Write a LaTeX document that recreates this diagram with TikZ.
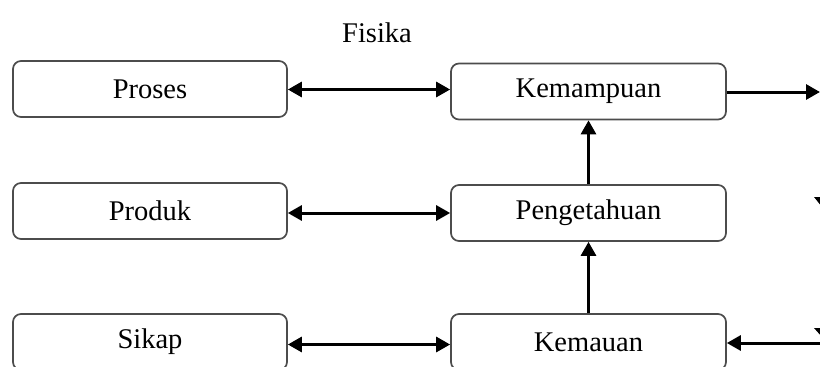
\documentclass[tikz,border=0pt]{standalone}
\usepackage{fontspec}
\setmainfont{Liberation Serif}
\usetikzlibrary{arrows.meta}
\begin{document}
\begin{tikzpicture}[x=1pt,y=-1pt,
  box/.style={draw=black!70, line width=1.7pt, rounded corners=8pt, fill=white,
    minimum height=56pt, inner sep=0pt, font=\fontsize{28.5}{32}\selectfont},
  lbox/.style={box, minimum width=274pt},
  mbox/.style={box, minimum width=275pt},
  conn/.style={line width=3pt, draw=black, arrows={-Triangle[length=14pt,width=15pt]}},
  biconn/.style={line width=3pt, draw=black, arrows={Triangle[length=14pt,width=15pt]-Triangle[length=14pt,width=15pt]}},
  lbl/.style={font=\fontsize{28.5}{32}\selectfont, inner sep=0pt}]
\useasboundingbox (0,0) rectangle (820,367);
\clip (0,0) rectangle (820,367);
\node[lbl] (fisika) at (377,33) {Fisika};
\node[lbox] (proses) at (150,89) {Proses};
\node[lbox] (produk) at (150,211) {Produk};
\node[lbox] (sikap) at (150,342) {Sikap};
\node[mbox] (kemampuan) at (588.5,91.5) {Kemampuan};
\node[mbox] (pengetahuan) at (588.5,213) {Pengetahuan};
\node[mbox] (kemauan) at (588.5,342) {Kemauan};
\coordinate (outR) at (820,92);
\coordinate (outB) at (822,343);
\draw[biconn] (proses.east |- 0,89.5) -- (kemampuan.west |- 0,89.5);
\draw[biconn] (produk.east |- 0,213) -- (pengetahuan.west |- 0,213);
\draw[biconn] (sikap.east |- 0,344.5) -- (kemauan.west |- 0,344.5);
\draw[conn] (pengetahuan.north) -- (kemampuan.south);
\draw[conn] (kemauan.north) -- (pengetahuan.south);
\draw[conn] (kemampuan.east |- outR) -- (outR);
\draw[conn] (outB) -- (kemauan.east |- outB);
\fill (814,197) -- (830,197) -- (822,207) -- cycle;
\fill (814,328) -- (830,328) -- (822,337) -- cycle;
\end{tikzpicture}
\end{document}
